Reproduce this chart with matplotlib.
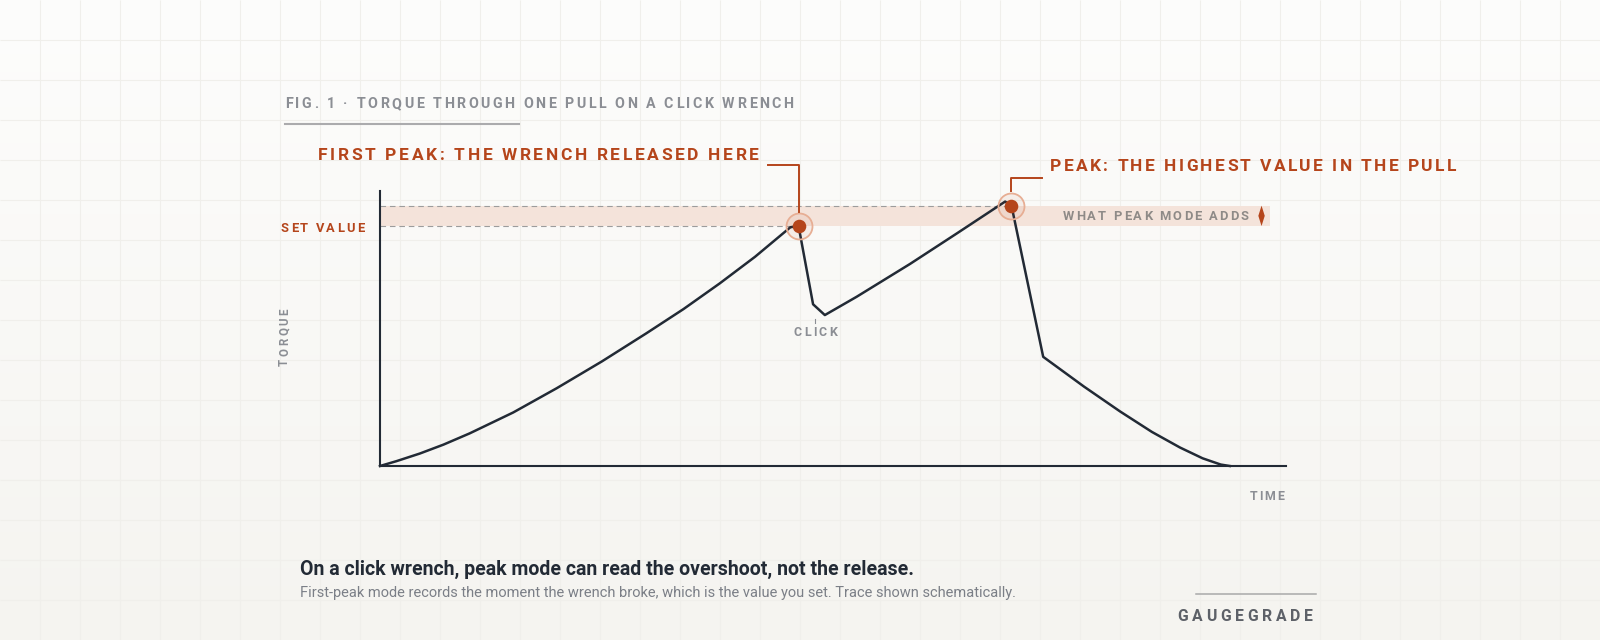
import matplotlib as mpl
mpl.use("Agg")
import matplotlib.pyplot as plt
import numpy as np
from matplotlib.font_manager import FontProperties, findfont, get_font

# === DATA (torque trace of one pull) ===
# time in % of the window shown, torque in % of the set value
time = [0, 1.8, 4.4, 7.0, 9.9, 14.7, 19.5, 24.5, 29.4, 33.5, 37.5, 41.4, 45.3, 46.2,
        47.8, 49.1, 52.6, 58.5, 63.7, 69.0, 69.7,
        73.2, 77.7, 81.7, 85.2, 88.3, 90.8, 92.8, 93.8]
torque = [0, 2.0, 5.2, 8.9, 13.6, 22.3, 32.4, 43.6, 55.3, 65.4, 76.1, 87.2, 99.5, 100.0,
          67.4, 62.9, 70.5, 84.2, 97.0, 110.2, 108.5,
          45.5, 33.1, 22.7, 14.2, 7.7, 3.2, 0.6, 0.0]
set_value = 100.0
peak_value = 108.5
first_peak_time = 46.2
peak_time = 69.7
time_max = 100.0
torque_max = 114.6

title = "FIG. 1 \u00b7 TORQUE THROUGH ONE PULL ON A CLICK WRENCH"
first_peak_label = "FIRST PEAK: THE WRENCH RELEASED HERE"
peak_label = "PEAK: THE HIGHEST VALUE IN THE PULL"
band_label = "WHAT PEAK MODE ADDS"
caption = "On a click wrench, peak mode can read the overshoot, not the release."
subcaption = ("First-peak mode records the moment the wrench broke, which is the value "
              "you set. Trace shown schematically.")

# === STYLE ===
W, H, DPI = 1600, 640, 100
ink = "#222a35"
rust = "#b5451b"
grey = "#8b8e94"
warm_grey = "#8e8a87"
band_color = "#f4e3da"
SANS = "Roboto"

fig = plt.figure(figsize=(W / DPI, H / DPI), dpi=DPI)

# background: soft vertical gradient plus faint 40px grid
bg = fig.add_axes([0, 0, 1, 1], zorder=0)
bg.set_xlim(0, W)
bg.set_ylim(H, 0)
bg.axis("off")
top = np.array(mpl.colors.to_rgb("#fdfdfc"))
bottom = np.array(mpl.colors.to_rgb("#f5f4f0"))
ramp = np.linspace(0, 1, 256)[:, None, None]
bg.imshow(top + (bottom - top) * ramp * np.ones((1, 2, 1)),
          extent=[0, W, H, 0], aspect="auto", interpolation="bicubic")
bg.vlines(np.arange(40, W, 40), 0, H, color="#f0efeb", lw=0.8)
bg.hlines(np.arange(40, H, 40), 0, W, color="#f0efeb", lw=0.8)

# main chart axes
ax = fig.add_axes([380 / W, (H - 466) / H, 906 / W, 275 / H], zorder=2)
ax.set_facecolor("none")
ax.set_xlim(0, time_max)
ax.set_ylim(0, torque_max)
ax.set_xticks([])
ax.set_yticks([])
for side in ["top", "right"]:
    ax.spines[side].set_visible(False)
for side in ["left", "bottom"]:
    ax.spines[side].set_color(ink)
    ax.spines[side].set_linewidth(1.5)

ax.axhspan(set_value, peak_value, xmin=0, xmax=0.982, color=band_color, lw=0, zorder=1)
ax.hlines(set_value, 0, first_peak_time, color="#9c9c9c", lw=0.8,
          linestyles=(0, (5, 3.5)), zorder=2)
ax.hlines(peak_value, 0, peak_time, color="#9c9c9c", lw=0.8,
          linestyles=(0, (5, 3.5)), zorder=2)
ax.plot(time, torque, color=ink, lw=1.8, clip_on=False, zorder=3)

marks_t = [first_peak_time, peak_time]
marks_v = [set_value, peak_value]
ax.scatter(marks_t, marks_v, s=(26 * 0.72) ** 2, facecolors=(0.71, 0.27, 0.1, 0.07),
           edgecolors="#e7ae94", linewidths=1.3, zorder=4, clip_on=False)
ax.scatter(marks_t, marks_v, s=(13.6 * 0.72) ** 2, color=rust, lw=0, zorder=5, clip_on=False)

# overlay in pixel units for the text layer
ov = fig.add_axes([0, 0, 1, 1], zorder=3)
ov.set_xlim(0, W)
ov.set_ylim(H, 0)
ov.axis("off")


def advances(s, prop):
    font = get_font(findfont(prop))
    font.set_size(prop.get_size_in_points(), DPI)
    return [font.load_char(ord(c)).linearHoriAdvance / 65536 for c in s]


def cap_height(prop):
    font = get_font(findfont(prop))
    font.set_size(prop.get_size_in_points(), DPI)
    return font.load_char(ord("H")).height / 64


def spaced(s, x, y, width, size, color, ha="left", weight="bold", rotate=False):
    # letter-spaced text, stretched to a given width, y is the cap centre
    prop = FontProperties(family=SANS, weight=weight, size=size)
    adv = advances(s, prop)
    gap = (width - sum(adv)) / max(len(s) - 1, 1)
    cap = cap_height(prop)
    pos = -{"left": 0, "center": width / 2, "right": width}[ha]
    for c, a in zip(s, adv):
        if rotate:
            ov.text(x + cap / 2, y - pos, c, fontproperties=prop, color=color,
                    rotation=90, rotation_mode="anchor", ha="left", va="baseline")
        else:
            ov.text(x + pos, y + cap / 2, c, fontproperties=prop, color=color,
                    ha="left", va="baseline")
        pos += a + gap


def fitted(s, x, y, width, color, weight="normal"):
    # plain text sized so it runs to the given width
    prop = FontProperties(family=SANS, weight=weight, size=10)
    prop.set_size(10 * width / sum(advances(s, prop)))
    cap = cap_height(prop)
    ov.text(x, y + cap / 2, s, fontproperties=prop, color=color, ha="left", va="baseline")


def to_px(t, v):
    px, py = ax.transData.transform((t, v))
    return px, H - py


spaced(title, 284.7, 103, 509, 10.3, grey)
ov.plot([284.7, 519.4], [123.5, 123.5], color="#ababad", lw=1.5)

# leader lines from the labels to the two marked points
fx, fy = to_px(first_peak_time, set_value)
spaced(first_peak_label, 318, 154, 441, 12.5, rust)
ov.plot([fx - 31, fx, fx], [165, 165, fy - 14], color=rust, lw=1.4)

px_, py_ = to_px(peak_time, peak_value)
spaced(peak_label, 1050, 165, 406, 12.5, rust)
ov.plot([px_, px_, px_ + 31], [py_ - 15, 178, 178], color=rust, lw=1.4)

spaced("SET VALUE", 364, 227.5, 83.4, 9.3, rust, ha="right")
spaced(band_label, 1062.7, 216, 185.6, 9.3, warm_grey)

# small double arrow at the end of the band
ax_x, top_y = to_px(97.3, peak_value)
_, bot_y = to_px(97.3, set_value)
mid_y = (top_y + bot_y) / 2
ov.fill([ax_x, ax_x + 3.2, ax_x, ax_x - 3.2], [top_y, mid_y, bot_y, mid_y],
        color=rust, lw=0)

spaced("CLICK", 815.3, 331.7, 44, 8.9, grey, ha="center")
ov.plot([815.3, 815.3], [319, 322.5], color=grey, lw=0.8)

spaced("TORQUE", 283.7, 337, 57.7, 8.3, grey, ha="center", rotate=True)
spaced("TIME", 1284.3, 495.7, 35, 8.9, grey, ha="right")

fitted(caption, 300, 567, 614, ink, weight="bold")
fitted(subcaption, 300, 592, 715, "#7b7f87")

ov.plot([1196, 1315.7], [594, 594], color="#a9a9a9", lw=1.1)
spaced("GAUGEGRADE", 1313, 615, 135.7, 11.3, "#5d6168", ha="right")

fig.savefig("out.png", dpi=DPI)
